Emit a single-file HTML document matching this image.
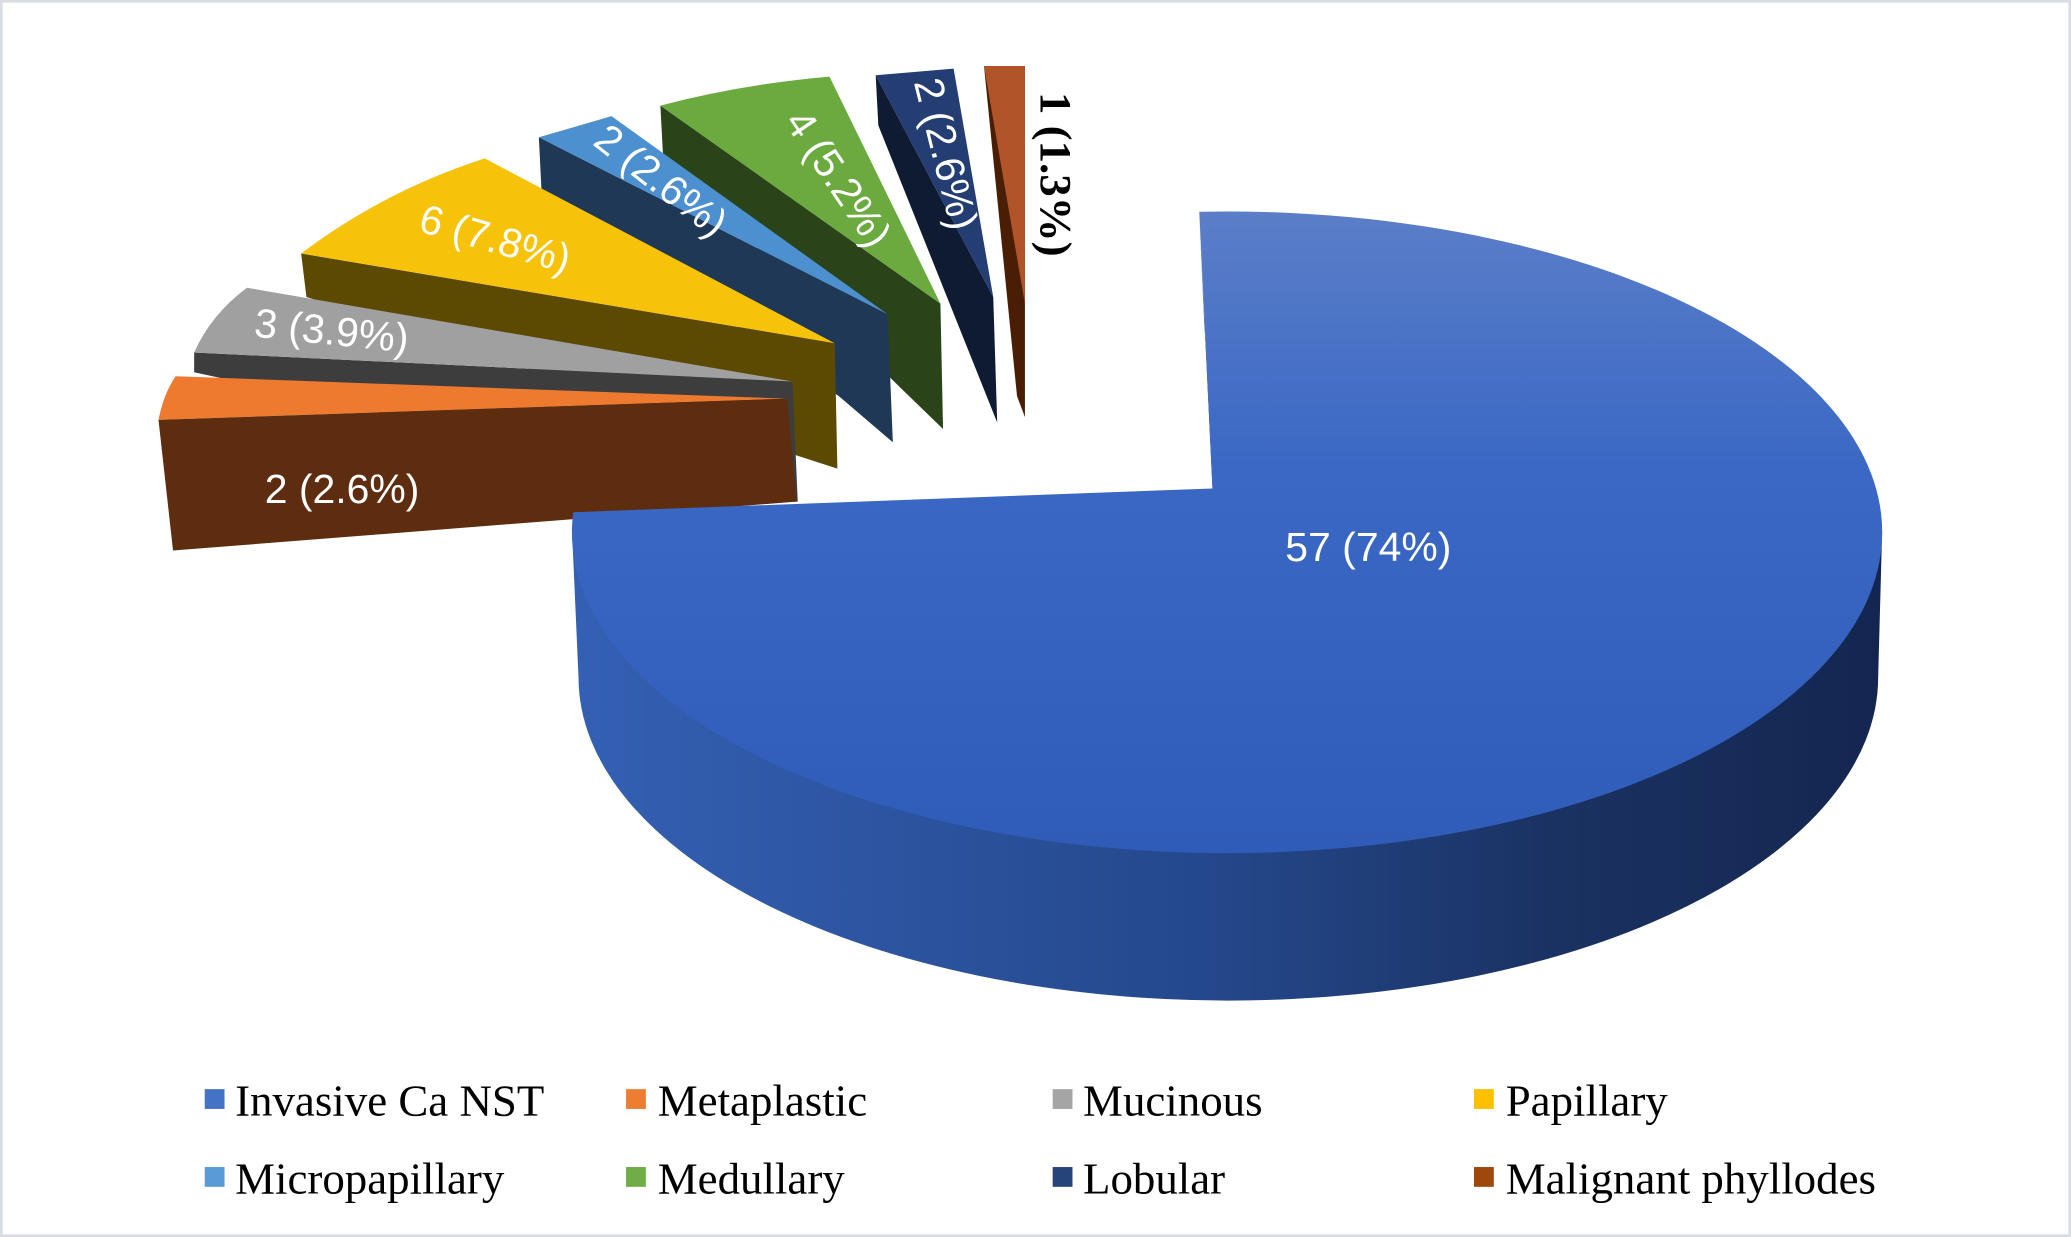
<!DOCTYPE html>
<html><head><meta charset="utf-8"><style>html,body{margin:0;padding:0;background:#fff}svg{display:block}</style></head><body>
<svg width="2071" height="1237" viewBox="0 0 1568 937" preserveAspectRatio="none" xmlns="http://www.w3.org/2000/svg">
<defs>
<linearGradient id="side" x1="433" x2="1425" y1="0" y2="0" gradientUnits="userSpaceOnUse"><stop offset="0" stop-color="#3460b4"/><stop offset="0.5" stop-color="#24478a"/><stop offset="0.75" stop-color="#1a3262"/><stop offset="1" stop-color="#142650"/></linearGradient>
<linearGradient id="top" x1="0" x2="0" y1="0" y2="1"><stop offset="0" stop-color="#5b7ec8"/><stop offset="0.4" stop-color="#3a68c4"/><stop offset="1" stop-color="#2f5cb8"/></linearGradient>
</defs>
<rect x="1" y="1" width="1566" height="935" fill="#fff" stroke="#d9dde3" stroke-width="2"/>
<!-- Phyllodes -->
<polygon points="745,50 776,50 776,316 770,300" fill="#4a1e05"/>
<polygon points="745,50 776,50 776,230" fill="#b0542a"/>
<!-- Lobular -->
<polygon points="663,57 752,225 755,320 665,95" fill="#0f1a33"/>
<polygon points="663,57 722,52 752,225" fill="#243e73"/>
<!-- Medullary -->
<polygon points="500,80 712,230 714,325 680,292 502,118" fill="#2a4318"/>
<path d="M500,80 Q560,64 628,58 L712,230 Z" fill="#6aaa3e"/>
<!-- Micropapillary -->
<polygon points="408,104 672,238 676,335 635,300 410,145" fill="#1f3855"/>
<polygon points="408,104 463,88 672,238" fill="#4d90d0"/>
<!-- Papillary -->
<polygon points="228,192 632,260 634,355 232,225" fill="#5c4a02"/>
<path d="M228,192 Q290,145 367,120 L632,260 Z" fill="#f6c20a"/>
<!-- Mucinous -->
<polygon points="147,267 600,289 604,380 600,380 147,282" fill="#3d3d3d"/>
<path d="M147,267 Q160,238 187,218 L600,289 Z" fill="#a0a0a0"/>
<!-- Metaplastic -->
<path d="M120,318 Q124,298 133,285 L596,302 Z" fill="#ee7a30"/>
<polygon points="120,318 596,302 603,380 131,417" fill="#5e2c0e"/>
<!-- Big blue -->
<path d="M433,400 L438,513 A492 245 0 0 0 1422,513 L1425,403 Z" fill="url(#side)"/>
<polygon points="908,162 918,370 926,370 912,250" fill="#1c2f5c"/>
<path d="M918,370 L908,160.4 A496 243 0 1 1 434,388 Z" fill="url(#top)"/>
<!-- labels -->
<g font-family="'Liberation Sans',sans-serif" font-size="31" fill="#fff" text-anchor="middle">
<text x="1036" y="425">57 (74%)</text>
<text x="259" y="381">2 (2.6%)</text>
<text transform="translate(250,261) rotate(6)">3 (3.9%)</text>
<text transform="translate(372,191) rotate(16)">6 (7.8%)</text>
<text transform="translate(494,145) rotate(38)">2 (2.6%)</text>
<text transform="translate(626,141) rotate(56)">4 (5.2%)</text>
<text transform="translate(706,119) rotate(76)">2 (2.6%)</text>
</g>
<text transform="translate(788,132) rotate(90)" font-family="'Liberation Serif',serif" font-weight="bold" font-size="34" fill="#000" text-anchor="middle">1 (1.3%)</text>
<!-- legend -->
<g font-family="'Liberation Serif',serif" font-size="34" fill="#000">
<rect x="155" y="825" width="15" height="15" fill="#4472c4"/><text x="178" y="845">Invasive Ca NST</text>
<rect x="474" y="825" width="15" height="15" fill="#ed7d31"/><text x="498" y="845">Metaplastic</text>
<rect x="797" y="825" width="15" height="15" fill="#a5a5a5"/><text x="820" y="845">Mucinous</text>
<rect x="1116" y="825" width="15" height="15" fill="#ffc000"/><text x="1140" y="845">Papillary</text>
<rect x="155" y="884" width="15" height="15" fill="#5b9bd5"/><text x="178" y="904">Micropapillary</text>
<rect x="474" y="884" width="15" height="15" fill="#70ad47"/><text x="498" y="904">Medullary</text>
<rect x="797" y="884" width="15" height="15" fill="#264478"/><text x="820" y="904">Lobular</text>
<rect x="1116" y="884" width="15" height="15" fill="#9e480e"/><text x="1140" y="904">Malignant phyllodes</text>
</g>
</svg>
</body></html>
